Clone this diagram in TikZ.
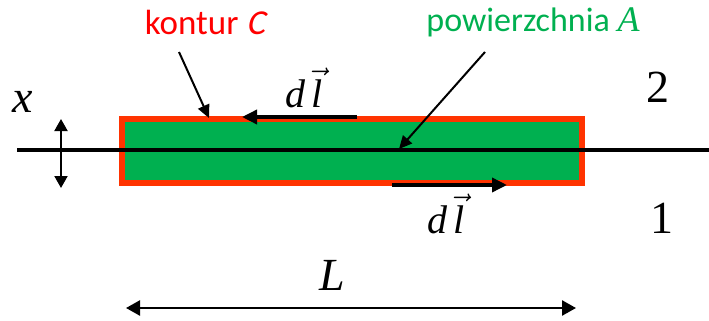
\RequirePackage{fix-cm}
\documentclass[tikz,border=0pt]{standalone}
\usepackage{fontspec}
\setmainfont{Liberation Serif}
\newfontfamily\labelfont{Carlito}
\newfontfamily\labelslant{Carlito}[FakeSlant=0.2]
\usetikzlibrary{arrows.meta}
\definecolor{konturred}{HTML}{FF3300}
\definecolor{textred}{HTML}{FF0000}
\definecolor{surfgreen}{HTML}{00B050}
\newcommand{\dlvec}{\textit{d}\,\ensuremath{\vec{\textit{l}}}}

\begin{document}
\begin{tikzpicture}[x=1pt, y=-1pt, every node/.style={inner sep=0pt, outer sep=0pt},
    bigfont/.style={font=\fontsize{46}{46}\selectfont\itshape},
    pointer/.style={line width=2pt, -{Triangle[length=13pt, width=12pt]}},
    dlarrow/.style={line width=3.5pt, -{Triangle[length=15pt, width=14pt]}},
    dimarrow/.style={line width=2.5pt, {Triangle[length=14pt, width=15pt]}-{Triangle[length=14pt, width=15pt]}}]
              \useasboundingbox (0,0) rectangle (709,321);

              % strip (surface A) with contour C
              \draw[konturred, fill=surfgreen, line width=6pt] (122,119) rectangle (582,183);
              \coordinate (axisL) at (17,150);
              \coordinate (axisR) at (709,150);
              \draw[line width=4pt] (axisL) -- (axisR);

              % labels
              \node[textred, font=\fontsize{35}{35}\labelfont] (kontur) at (205,22) {kontur {\labelslant C}};
              \node[surfgreen, font=\fontsize{34}{34}\labelfont] (pow) at (533,22) {powierzchnia {\fontsize{36}{36}\rmfamily\itshape A}};
              \node[bigfont, anchor=base] (xlab) at (23,112) {x};
              \node[font=\fontsize{46}{46}\selectfont, anchor=base] (two) at (658,102) {2};
              \node[font=\fontsize{46}{46}\selectfont, anchor=base] (one) at (662,233) {1};
              \node[bigfont, anchor=base] (Llab) at (332,290) {L};
              \node[font=\fontsize{40}{40}\selectfont, anchor=base] (dltop) at (304,107) {\dlvec};
              \node[font=\fontsize{40}{40}\selectfont, anchor=base] (dlbot) at (446,233) {\dlvec};

              % pointers
              \coordinate (kstart) at (179,52);
              \coordinate (kend) at (209,118);
              \draw[pointer] (kstart) -- (kend);
              \coordinate (pstart) at (485,52);
              \coordinate (pend) at (399,149);
              \draw[pointer] (pstart) -- (pend);

              % line elements
              \coordinate (t1) at (357,117);
              \coordinate (t2) at (242,117);
              \draw[dlarrow] (t1) -- (t2);
              \coordinate (b1) at (392,185);
              \coordinate (b2) at (507,185);
              \draw[dlarrow] (b1) -- (b2);

              % dimensions
              \coordinate (xa) at (61,119);
              \coordinate (xb) at (61,188);
              \draw[line width=2pt, {Triangle[length=12pt, width=13pt]}-{Triangle[length=12pt, width=13pt]}] (xa) -- (xb);
              \coordinate (La) at (126,308);
              \coordinate (Lb) at (576,308);
              \draw[dimarrow] (La) -- (Lb);
            \end{tikzpicture}
\end{document}
